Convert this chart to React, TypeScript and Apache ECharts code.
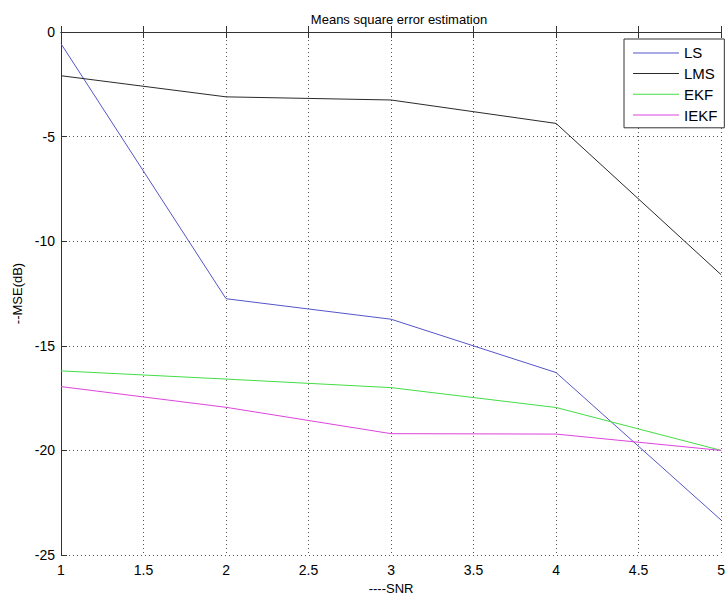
import React, { useEffect, useRef } from "react";
import * as echarts from "echarts";

const snr = [1, 2, 3, 4, 5];
const lsValues = [-0.56, -12.75, -13.73, -16.28, -23.33];
const lmsValues = [-2.09, -3.1, -3.25, -4.37, -11.6];
const ekfValues = [-16.2, -16.59, -17.0, -17.95, -20.0];
const iekfValues = [-16.95, -17.94, -19.2, -19.22, -20.0];
const seriesNames = ["LS", "LMS", "EKF", "IEKF"];
const seriesColors = ["#5555c8", "#2a2a2a", "#44dd44", "#dd44dd"];
const xTicks = { min: 1, max: 5, interval: 0.5 };
const yTicks = { min: -25, max: 0, interval: 5 };

const FONT = "'Liberation Sans', Arial, Helvetica, sans-serif";

export default function App() {
  const ref = useRef<HTMLDivElement>(null);
  useEffect(() => {
    if (!ref.current) return;
    const chart = echarts.init(ref.current, null, { renderer: "svg" });
    const all = [lsValues, lmsValues, ekfValues, iekfValues];
    const gridLine = { show: true, lineStyle: { type: [1, 3] as any, color: "#555", width: 1 } };
    const axisLine = { show: true, lineStyle: { color: "#333", width: 1 } };
    chart.setOption({
      animation: false,
      backgroundColor: "#fff",
      title: {
        text: "Means square error estimation",
        left: 394,
        textAlign: "center",
        top: 8,
        textStyle: { fontFamily: FONT, fontSize: 13, fontWeight: "normal", color: "#000" },
      },
      legend: {
        orient: "vertical",
        left: 624,
        top: 39,
        padding: [6.4, 7, 5.3, 9],
        icon: "path://M0,6.5L46,6.5L46,7.5L0,7.5Z",
        itemWidth: 46,
        itemHeight: 14,
        itemGap: 5.7,
        itemTextGap: 5,
        borderColor: "#333",
        borderWidth: 1,
        backgroundColor: "#fff",
        data: seriesNames,
        textStyle: { fontFamily: FONT, fontSize: 15, lineHeight: 14, color: "#000" },
      },
      grid: { left: 61, right: 0, top: 32, bottom: 47, containLabel: false },
      xAxis: [
        {
          type: "value",
          min: xTicks.min,
          max: xTicks.max,
          interval: xTicks.interval,
          name: "----SNR",
          nameLocation: "middle",
          nameGap: 27,
          nameTextStyle: { fontFamily: FONT, fontSize: 13, color: "#000" },
          axisLine,
          axisTick: { show: true, inside: true, length: 6, lineStyle: { color: "#333" } },
          axisLabel: { fontFamily: FONT, fontSize: 14, color: "#000", margin: 8 },
          splitLine: gridLine,
        },
        {
          type: "value",
          position: "top",
          min: xTicks.min,
          max: xTicks.max,
          interval: xTicks.interval,
          axisLine,
          axisTick: { show: true, inside: true, length: 6, lineStyle: { color: "#333" } },
          axisLabel: { show: false },
          splitLine: { show: false },
        },
      ],
      yAxis: [
        {
          type: "value",
          min: yTicks.min,
          max: yTicks.max,
          interval: yTicks.interval,
          name: "--MSE(dB)",
          nameLocation: "middle",
          nameGap: 36,
          nameTextStyle: { fontFamily: FONT, fontSize: 13, color: "#000" },
          axisLine,
          axisTick: { show: true, inside: true, length: 6, lineStyle: { color: "#333" } },
          axisLabel: { fontFamily: FONT, fontSize: 14, color: "#000", margin: 6 },
          splitLine: gridLine,
        },
      ],
      series: seriesNames.map((name, i) => ({
        name,
        type: "line",
        xAxisIndex: 0,
        yAxisIndex: 0,
        symbol: "none",
        data: snr.map((x, j) => [x, all[i][j]]),
        lineStyle: { color: seriesColors[i], width: 1 },
        itemStyle: { color: seriesColors[i] },
        color: seriesColors[i],
      })),
    });
    return () => chart.dispose();
  }, []);
  return (
    <div
      ref={ref}
      style={{ position: "fixed", left: 0, top: 0, width: 728, height: 602 }}
    />
  );
}
